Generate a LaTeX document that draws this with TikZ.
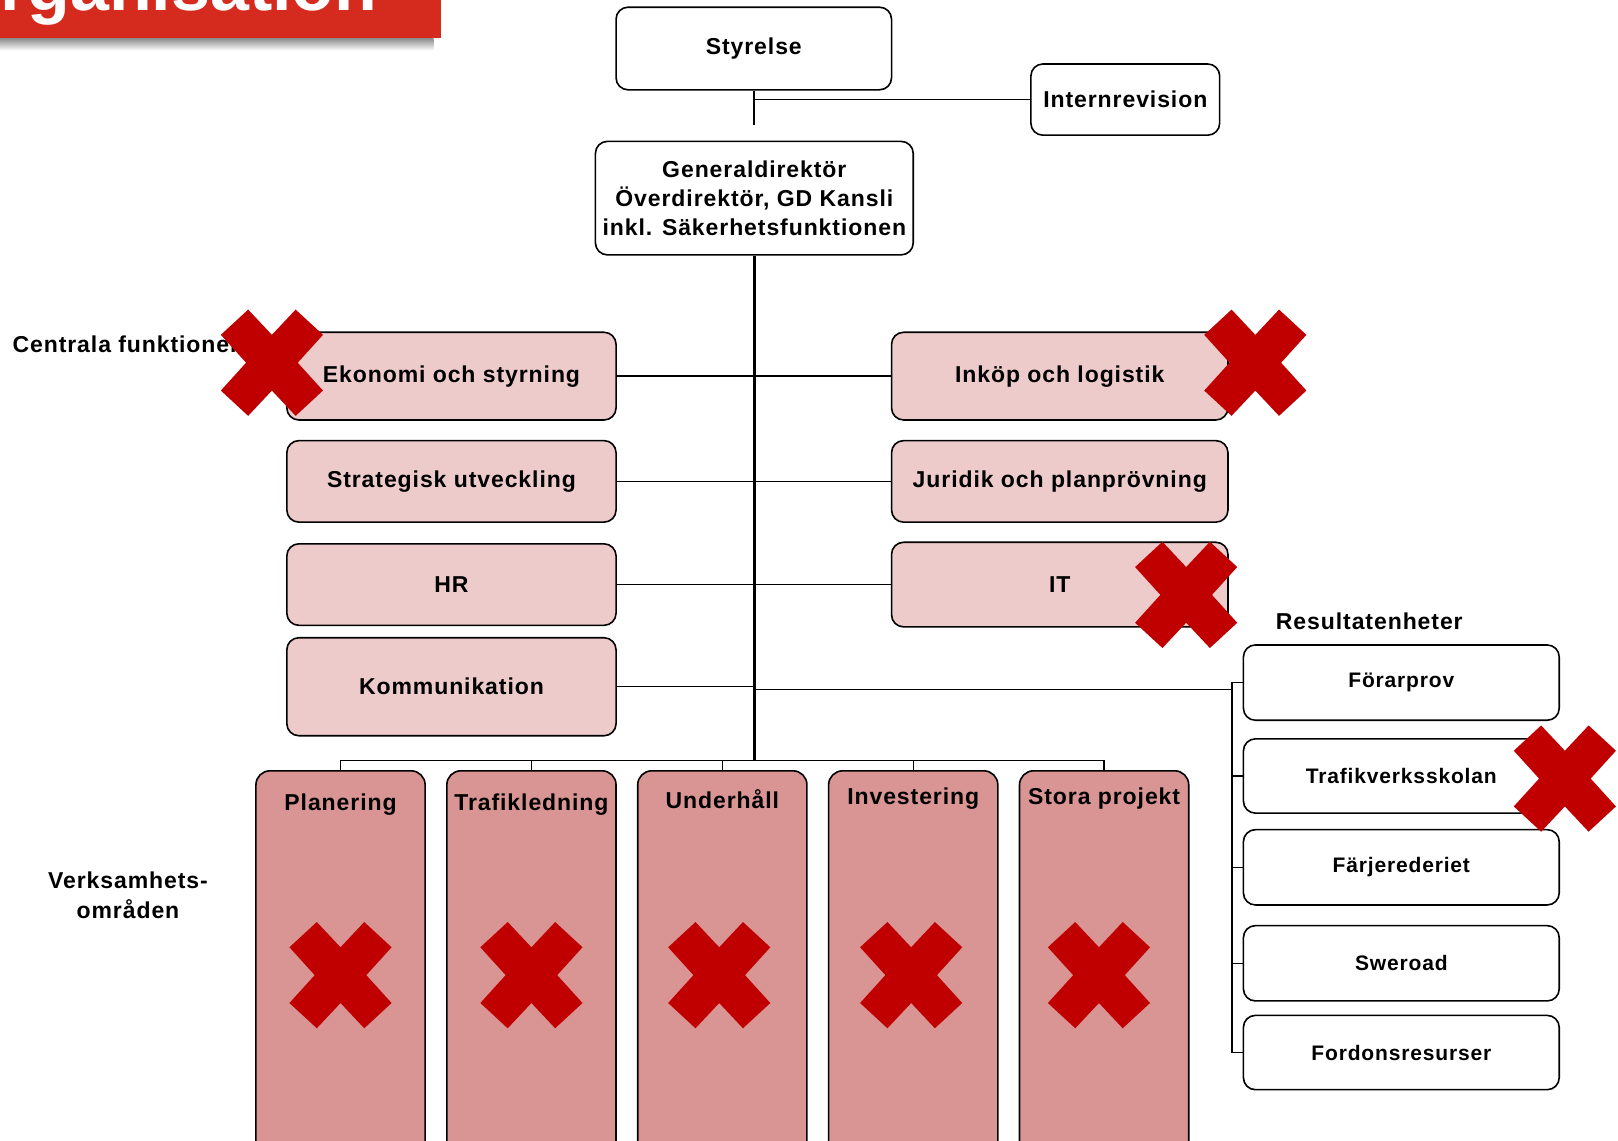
\documentclass[tikz,border=0pt]{standalone}
\usepackage{fontspec}
\newfontfamily\boxfont{Liberation Sans}[LetterSpace=4]
\newfontfamily\titlefont{Liberation Sans}
\definecolor{lpink}{HTML}{EDCBCA}
\definecolor{dpink}{HTML}{D99594}
\definecolor{xred}{HTML}{C00000}
\definecolor{banner}{HTML}{D52B1E}
\newcommand{\redx}[2]{\fill[xred,shift={(#1,#2)}] (-49.5,-27) -- (-23,-51.5) -- (0,-27) -- (23,-51.5) -- (49.5,-27) -- (25,0) -- (49.5,27) -- (23,51.5) -- (0,27) -- (-23,51.5) -- (-49.5,27) -- (-25,0) -- cycle;}
\tikzset{
  box/.style={draw=black, line width=1.6pt, rounded corners=12pt, inner sep=0pt, align=center,
    font={\boxfont\bfseries\fontsize{23}{29}\selectfont}},
  wbox/.style={box, fill=white},
  cbox/.style={box, fill=lpink},
  lbox/.style={cbox, minimum width=329.2pt},
  rtbox/.style={cbox, minimum width=336.4pt},
  vbox/.style={box, fill=dpink, rounded corners=14pt, minimum width=169.2pt, minimum height=390.1pt},
  rbox/.style={box, fill=white, minimum width=315.8pt, font={\boxfont\bfseries\fontsize{21}{26}\selectfont}},
  lbl/.style={inner sep=0pt, align=center, font={\boxfont\bfseries\fontsize{23}{30}\selectfont}},
  conn/.style={draw=black, line width=1.4pt},
  trunk/.style={draw=black, line width=2.4pt}
}
\begin{document}
\begin{tikzpicture}[x=1.0319pt,y=-1.0319pt]
\useasboundingbox (0,0) rectangle (1568,1105);
% banner
\shade[top color=black!45, bottom color=white] (0,37) rectangle (420,49);
\fill[banner] (0,0) rectangle (427,37);
\node[anchor=base east, inner sep=0pt, text=white, font={\titlefont\bfseries\fontsize{70}{70}\selectfont}] (title) at (366,10.5) {Organisation};
% top
\node[wbox, minimum width=275.5pt, minimum height=82.6pt] (sty) at (730.5,47) {Styrelse};
\node[wbox, minimum width=188.8pt, minimum height=71.2pt] (intr) at (1090.5,96.5) {Internrevision};
\node[wbox, minimum width=317.8pt, minimum height=113.5pt] (gd) at (731,192) {Generaldirektör\\Överdirektör, GD Kansli\\inkl. Säkerhetsfunktionen};
% central functions
\node[lbox, minimum height=87.7pt] (ekon) at (437.5,364.5) {Ekonomi och styrning};
\node[lbox, minimum height=81.5pt] (strat) at (437.5,466.5) {Strategisk utveckling};
\node[lbox, minimum height=81.5pt] (hr) at (437.5,566.5) {HR};
\node[lbox, minimum height=98pt] (kom) at (437.5,665.5) {Kommunikation};
\node[rtbox, minimum height=87.7pt] (inkop) at (1027,364.5) {Inköp och logistik};
\node[rtbox, minimum height=81.5pt] (jur) at (1027,466.5) {Juridik och planprövning};
\node[rtbox, minimum height=84.6pt] (it) at (1027,566.5) {IT};
% result units
\node[rbox, minimum height=75.3pt] (forar) at (1358,661.5) {Förarprov};
\node[rbox, minimum height=74.3pt] (tvs) at (1358,752) {Trafikverksskolan};
\node[rbox, minimum height=75.3pt] (farj) at (1358,840.5) {Färjerederiet};
\node[rbox, minimum height=75.3pt] (swe) at (1358,933.5) {Sweroad};
\node[rbox, minimum height=74.3pt] (ford) at (1358,1020) {Fordonsresurser};
% business areas
\node[vbox] (plan) at (330,936) {};
\node[vbox] (trl) at (515,936) {};
\node[vbox] (und) at (700,936) {};
\node[vbox] (inv) at (885,936) {};
\node[vbox] (stp) at (1070,936) {};
\node[lbl] (plant) at (330,780) {Planering};
\node[lbl] (trlt) at (515,780) {Trafikledning};
\node[lbl] (undt) at (700,774) {Underhåll};
\node[lbl] (invt) at (885,774) {Investering};
\node[lbl] (stpt) at (1070,774) {Stora projekt};
% labels
\node[lbl, anchor=west] (cf) at (12,334) {Centrala funktioner};
\node[lbl] (vo) at (124,868) {Verksamhets-\\områden};
\node[lbl] (re) at (1327,602) {Resultatenheter};
% connectors
\coordinate (stytail) at (sty.south |- 0,121);
\draw[conn] (sty.south) -- (stytail);
\draw[conn] (sty.south |- intr.west) -- (intr.west);
\coordinate (bus) at (gd.south |- 0,737);
\draw[trunk] (gd.south) -- (bus);
\draw[conn] (ekon.east) -- (inkop.west);
\draw[conn] (strat.east) -- (jur.west);
\draw[conn] (hr.east) -- (it.west);
\draw[conn] (kom.east) -- (kom.east -| bus);
\coordinate (rb) at (1194,668);
\draw[conn] (bus |- rb) -- (rb);
\draw[conn] (forar.west) -- (forar.west -| rb) -- (ford.west -| rb) -- (ford.west);
\draw[conn] (tvs.west) -- (tvs.west -| rb);
\draw[conn] (farj.west) -- (farj.west -| rb);
\draw[conn] (swe.west) -- (swe.west -| rb);
\draw[conn] (plan.north) -- (plan.north |- bus) -- (stp.north |- bus) -- (stp.north);
\draw[conn] (trl.north) -- (trl.north |- bus);
\draw[conn] (und.north) -- (und.north |- bus);
\draw[conn] (inv.north) -- (inv.north |- bus);
% crosses
\redx{263.5}{351.5}
\redx{1216.5}{351.5}
\redx{1149.5}{576.5}
\redx{1516.5}{754.5}
\redx{330}{945}
\redx{515}{945}
\redx{697}{945}
\redx{883}{945}
\redx{1065}{945}
\end{tikzpicture}
\end{document}
